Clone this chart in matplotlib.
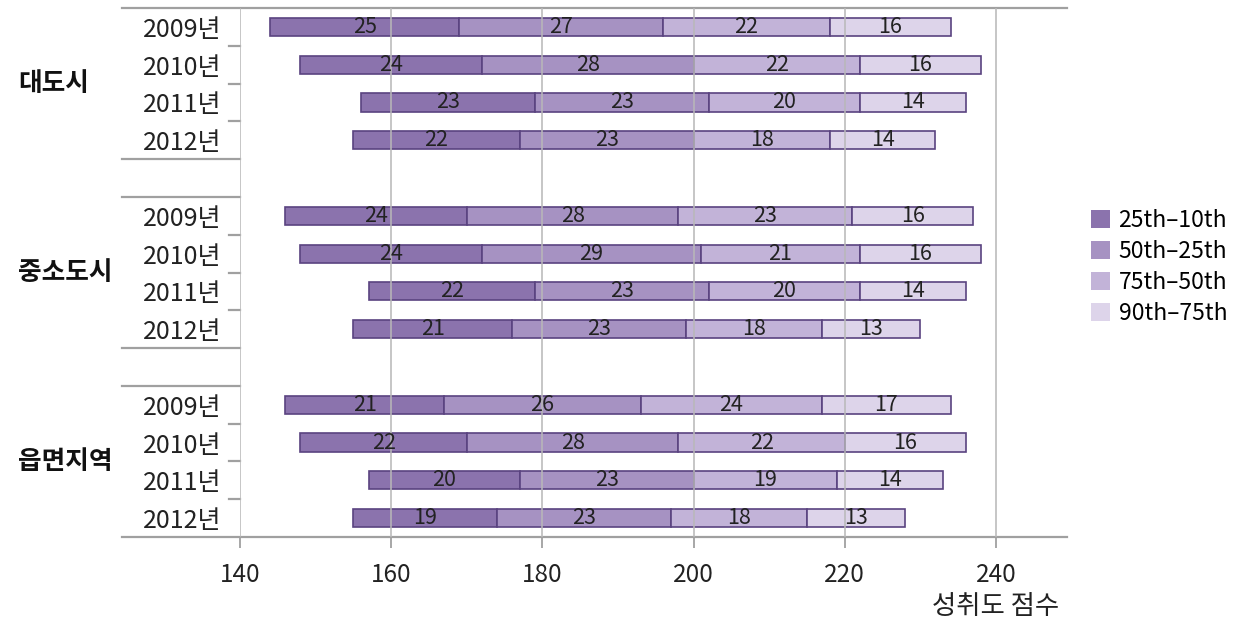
import matplotlib
matplotlib.use('Agg')
import matplotlib.pyplot as plt
import matplotlib.transforms as mtrans
from matplotlib.patches import Patch

plt.rcParams['font.family'] = ['Noto Sans CJK KR', 'DejaVu Sans']

# data
groups = ['대도시', '중소도시', '읍면지역']
years = ['2009년', '2010년', '2011년', '2012년']
p10 = [144, 148, 156, 155, 146, 148, 157, 155, 146, 148, 157, 155]
d25_10 = [25, 24, 23, 22, 24, 24, 22, 21, 21, 22, 20, 19]
d50_25 = [27, 28, 23, 23, 28, 29, 23, 23, 26, 28, 23, 23]
d75_50 = [22, 22, 20, 18, 23, 21, 20, 18, 24, 22, 19, 18]
d90_75 = [16, 16, 14, 14, 16, 16, 14, 13, 17, 16, 14, 13]
series_names = ['25th–10th', '50th–25th', '75th–50th', '90th–75th']
colors = ['#8b73ad', '#a692c2', '#c2b3d8', '#ddd4ea']
edge = '#5a4380'
grid_c = '#b8b8b8'

fig = plt.figure(figsize=(12.4, 6.26), dpi=100)
W, H = 1240., 626.
ax = fig.add_axes([240/W, 1-537/H, (1067-240)/W, (537-8)/H])

# row slots: 4 years per group, an empty slot between groups
pos = []
for g in range(len(groups)):
    for k in range(len(years)):
        pos.append(g*5 + k)

lefts = list(p10)
for vals, c in zip([d25_10, d50_25, d75_50, d90_75], colors):
    ax.barh(pos, vals, left=lefts, height=0.48, color=c, edgecolor=edge,
            linewidth=1.2, zorder=2)
    for y, l, v in zip(pos, lefts, vals):
        ax.text(l + v/2, y, str(v), ha='center', va='center', fontsize=15.5,
                color='#222222', zorder=5)
    lefts = [l + v for l, v in zip(lefts, vals)]

ax.set_xlim(140, 249.4)
ax.set_ylim(13.5, -0.5)
for s in ax.spines.values():
    s.set_visible(False)

for x in [140, 160, 180, 200, 220, 240]:
    ax.axvline(x, color=grid_c, lw=1.4, zorder=3, alpha=0.8)

trans = mtrans.blended_transform_factory(ax.transAxes, ax.transData)
lx = (122-240)/(1067-240)
for y in [-0.5, 13.5]:
    ax.plot([lx, 1], [y, y], color='#a0a0a0', lw=1.6, transform=trans, clip_on=False)
for y in [3.5, 4.5, 8.5, 9.5]:
    ax.plot([lx, 0], [y, y], color='#a0a0a0', lw=1.6, transform=trans, clip_on=False)
for g in range(3):
    for k in range(3):
        y = g*5 + k + 0.5
        ax.plot([-11/827, 0], [y, y], color='#a0a0a0', lw=1.6, transform=trans, clip_on=False)

ax.set_yticks(pos)
ax.set_yticklabels(years*3, fontsize=18, color='#222222')
ax.tick_params(axis='y', length=0, pad=13)
ax.set_xticks([140, 160, 180, 200, 220, 240])
ax.tick_params(axis='x', length=8, width=1.3, color='#a0a0a0', labelsize=17.5,
               labelcolor='#222222', pad=10)

for g, name in enumerate(groups):
    ax.text((18-240)/827, g*5 + 1.5, name, transform=trans, ha='left', va='center',
            fontsize=18.5, fontweight='bold', color='#111111')

fig.text(996/W, 1-607/H, '성취도 점수', ha='center', va='center', fontsize=19, color='#222222')

handles = [Patch(facecolor=c, edgecolor='none') for c in colors]
fig.legend(handles, series_names, loc='upper left', bbox_to_anchor=(1091/W, 1-209/H),
           frameon=False, fontsize=16.5, handlelength=0.85, handleheight=0.85,
           handletextpad=0.35, labelspacing=0.35, borderpad=0, borderaxespad=0)

fig.savefig('out.png', dpi=100)
